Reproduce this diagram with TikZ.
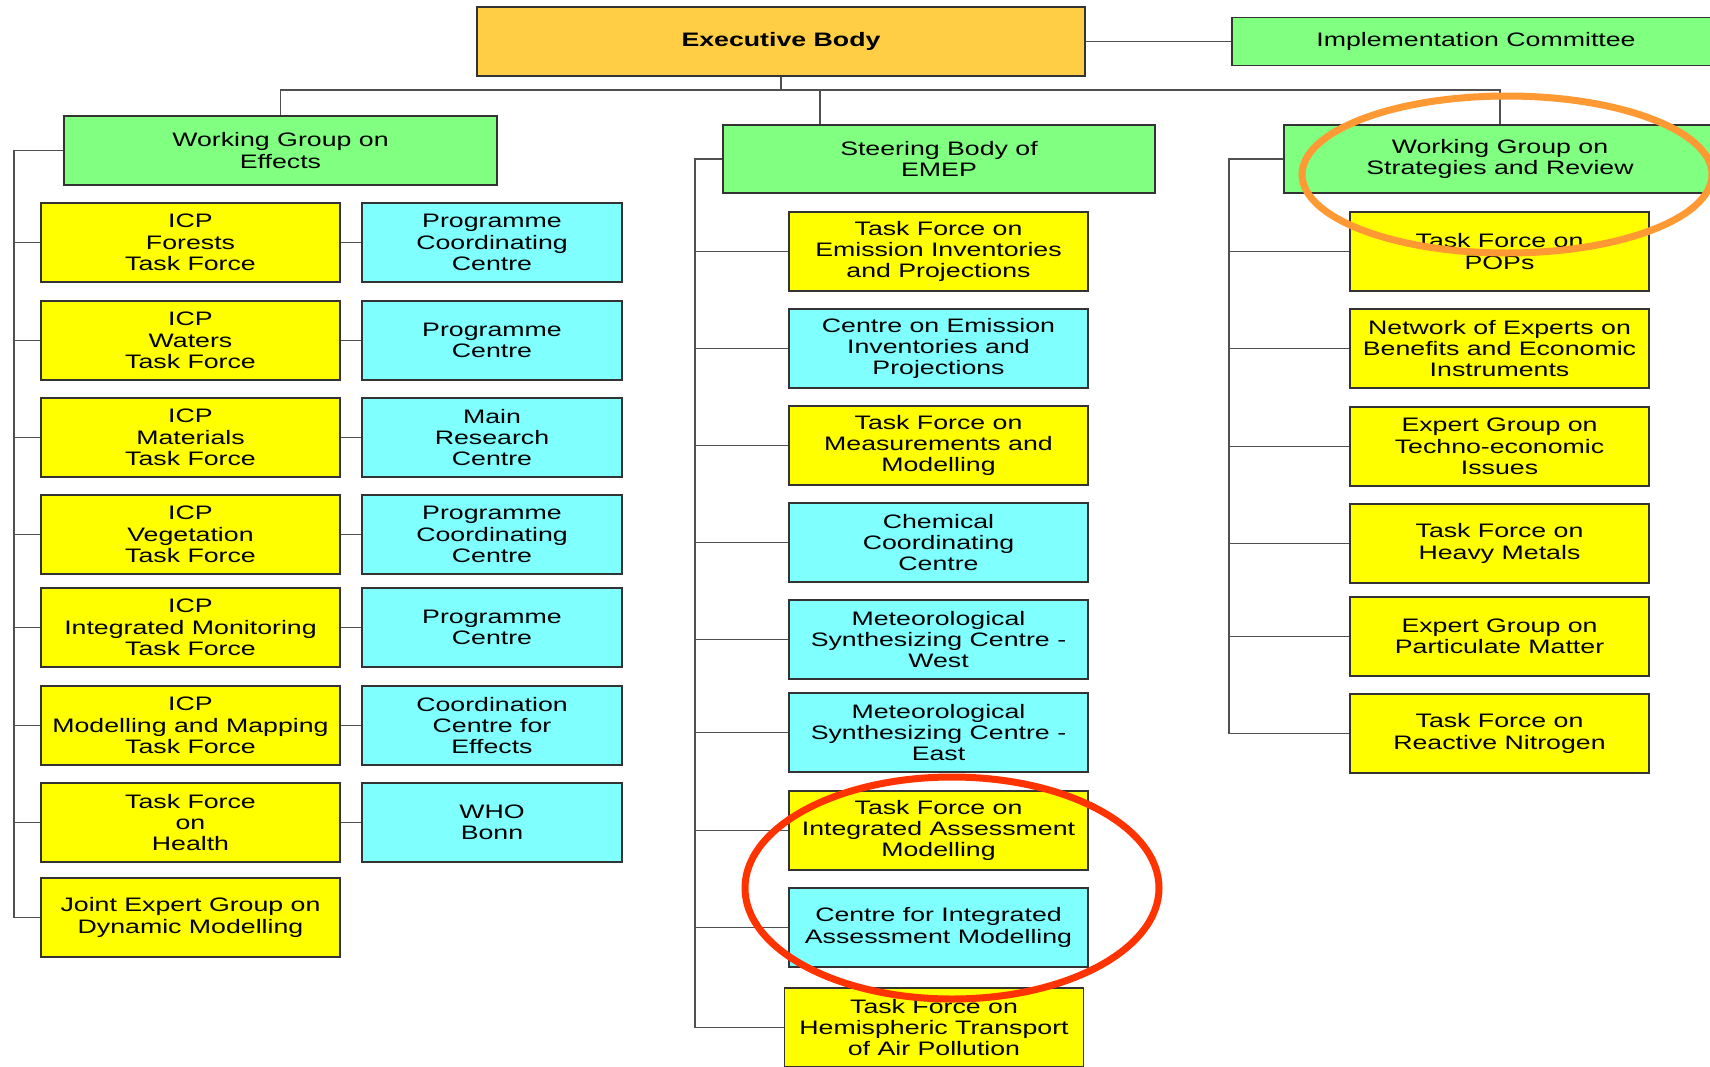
\documentclass[tikz,border=0pt]{standalone}
\usepackage{fontspec}
\setmainfont{Liberation Sans}[FakeStretch=1.37]
\usetikzlibrary{positioning}

\definecolor{execorange}{RGB}{255,206,68}
\definecolor{groupgreen}{RGB}{128,255,128}
\definecolor{tfyellow}{RGB}{255,255,0}
\definecolor{centrecyan}{RGB}{128,255,255}
\definecolor{ringorange}{RGB}{255,153,51}
\definecolor{ringred}{RGB}{255,51,0}
\definecolor{linkgray}{RGB}{80,80,80}

\begin{document}
\begin{tikzpicture}[
    x=1pt, y=-1pt,
    unit/.style={draw=black!80, line width=1.3pt, rectangle, align=center, inner sep=0pt,
      font=\fontsize{19.5}{21.3}\selectfont},
    exec/.style={unit, fill=execorange, minimum width=608pt, minimum height=69pt, font=\fontsize{19.5}{21.3}\selectfont\bfseries},
    group/.style={unit, fill=groupgreen, minimum width=432pt, minimum height=68pt},
    taskforce/.style={unit, fill=tfyellow, minimum width=299pt, minimum height=79pt},
    centre/.style={unit, fill=centrecyan, minimum width=299pt, minimum height=79pt},
    smallcentre/.style={centre, minimum width=260pt},
    link/.style={draw=linkgray, line width=1.3pt},
    ring/.style={line width=7pt}
  ]

  \fill[white] (0,0) rectangle (1710,1066);
  \useasboundingbox (0,0) rectangle (1710,1066);

  % Top level
  \node[exec] (exec) at (781,41.5) {Executive Body};
  \node[group, minimum width=488pt, minimum height=48pt] (impl) at (1476,41.5) {Implementation Committee};

  \node[group, minimum width=433pt, minimum height=69pt] (wge) at (280.5,150.5) {Working Group on\\Effects};
  \node[group] (steer) at (939,159) {Steering Body of\\EMEP};
  \node[group] (wgsr) at (1500,159) {Working Group on\\Strategies and Review};

  % Working Group on Effects column
  \node[taskforce] (forests) at (190.5,242.5) {ICP\\Forests\\Task Force};
  \node[taskforce] (waters) at (190.5,340.5) {ICP\\Waters\\Task Force};
  \node[taskforce] (materials) at (190.5,437.5) {ICP\\Materials\\Task Force};
  \node[taskforce] (vegetation) at (190.5,534.5) {ICP\\Vegetation\\Task Force};
  \node[taskforce] (monitoring) at (190.5,627.5) {ICP\\Integrated Monitoring\\Task Force};
  \node[taskforce] (mapping) at (190.5,725.5) {ICP\\Modelling and Mapping\\Task Force};
  \node[taskforce] (health) at (190.5,822.5) {Task Force\\on\\Health};
  \node[taskforce] (dynamic) at (190.5,917.5) {Joint Expert Group on\\Dynamic Modelling};

  \node[smallcentre] (forestscc) at (492,242.5) {Programme\\Coordinating\\Centre};
  \node[smallcentre] (waterscc) at (492,340.5) {Programme\\Centre};
  \node[smallcentre] (materialscc) at (492,437.5) {Main\\Research\\Centre};
  \node[smallcentre] (vegetationcc) at (492,534.5) {Programme\\Coordinating\\Centre};
  \node[smallcentre] (monitoringcc) at (492,627.5) {Programme\\Centre};
  \node[smallcentre] (mappingcc) at (492,725.5) {Coordination\\Centre for\\Effects};
  \node[smallcentre] (healthcc) at (492,822.5) {WHO\\Bonn};

  % EMEP column
  \node[taskforce] (tfeip) at (938.5,251.5) {Task Force on\\Emission Inventories\\and Projections};
  \node[centre] (ceip) at (938.5,348.5) {Centre on Emission\\Inventories and\\Projections};
  \node[taskforce] (tfmm) at (938.5,445.5) {Task Force on\\Measurements and\\Modelling};
  \node[centre] (ccc) at (938.5,542.5) {Chemical\\Coordinating\\Centre};
  \node[centre] (mscw) at (938.5,639.5) {Meteorological\\Synthesizing Centre -\\West};
  \node[centre] (msce) at (938.5,732.5) {Meteorological\\Synthesizing Centre -\\East};
  \node[taskforce] (tfiam) at (938.5,830.5) {Task Force on\\Integrated Assessment\\Modelling};
  \node[centre] (ciam) at (938.5,927.5) {Centre for Integrated\\Assessment Modelling};
  \node[taskforce] (tfhtap) at (934,1027.5) {Task Force on\\Hemispheric Transport\\of Air Pollution};

  % Strategies and Review column
  \node[taskforce] (pops) at (1499.5,251.5) {Task Force on\\POPs};
  \node[taskforce] (benefits) at (1499.5,348.5) {Network of Experts on\\Benefits and Economic\\Instruments};
  \node[taskforce] (techno) at (1499.5,446.5) {Expert Group on\\Techno-economic\\Issues};
  \node[taskforce] (metals) at (1499.5,543.5) {Task Force on\\Heavy Metals};
  \node[taskforce] (particulate) at (1499.5,636.5) {Expert Group on\\Particulate Matter};
  \node[taskforce] (nitrogen) at (1499.5,733.5) {Task Force on\\Reactive Nitrogen};

  % Links from the Executive Body
  \coordinate (bus) at (781,90);
  \draw[link] (exec.east) -- (impl.west);
  \draw[link] (exec.south) -- (bus);
  \draw[link] (wge.north) |- (bus) -| (wgsr.north);
  \draw[link] (steer.north) ++(-119,0) coordinate (steertop) -- (steertop |- bus);

  % Trunks
  \coordinate (ltrunk) at (14,0);
  \coordinate (mtrunk) at (695,0);
  \coordinate (rtrunk) at (1229,0);
  \draw[link] (wge.west) -| (ltrunk |- dynamic.west) -- (dynamic.west);
  \draw[link] (steer.west) -| (mtrunk |- tfhtap.west) -- (tfhtap.west);
  \draw[link] (wgsr.west) -| (rtrunk |- nitrogen.west) -- (nitrogen.west);

  \foreach \n in {forests,waters,materials,vegetation,monitoring,mapping,health}
    \draw[link] (ltrunk |- \n.west) -- (\n.west);
  \foreach \n in {forests,waters,materials,vegetation,monitoring,mapping,health}
    \draw[link] (\n.east) -- (\n cc.west);
  \foreach \n in {tfeip,ceip,tfmm,ccc,mscw,msce,tfiam,ciam}
    \draw[link] (mtrunk |- \n.west) -- (\n.west);
  \foreach \n in {pops,benefits,techno,metals,particulate}
    \draw[link] (rtrunk |- \n.west) -- (\n.west);

  % Highlight rings
  \draw[ring, ringorange] (1507,174.5) ellipse [x radius=205pt, y radius=78.5pt];
  \draw[ring, ringred] (952,888) ellipse [x radius=207pt, y radius=111pt];

\end{tikzpicture}
\end{document}
